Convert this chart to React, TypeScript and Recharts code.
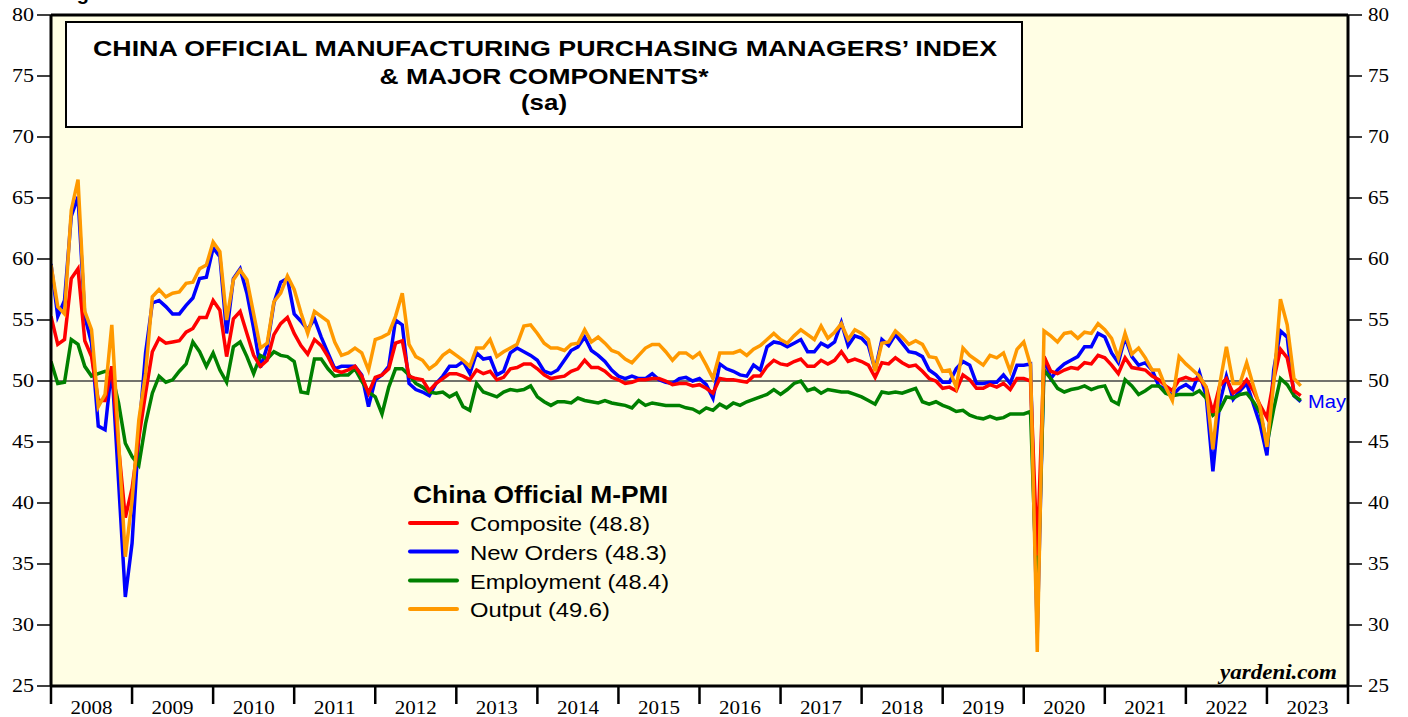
import React from 'react';
import { LineChart, Line, XAxis, YAxis, CartesianGrid, ReferenceLine } from 'recharts';

// monthly, Dec 2007 .. May 2023 (plotted at month end)
const composite = [
  55.3,
  53.0, 53.4, 58.4, 59.2, 53.3, 52.0, 48.4, 48.4, 51.2, 44.6, 38.8, 41.2,
  45.3, 49.0, 52.4, 53.5, 53.1, 53.2, 53.3, 54.0, 54.3, 55.2, 55.2, 56.6,
  55.8, 52.0, 55.1, 55.7, 53.9, 52.1, 51.2, 51.7, 53.8, 54.7, 55.2, 53.9,
  52.9, 52.2, 53.4, 52.9, 52.0, 50.9, 50.7, 50.9, 51.2, 50.4, 49.0, 50.3,
  50.5, 51.0, 53.1, 53.3, 50.4, 50.2, 50.1, 49.2, 49.8, 50.2, 50.6, 50.6,
  50.4, 50.1, 50.9, 50.6, 50.8, 50.1, 50.3, 51.0, 51.1, 51.4, 51.4, 51.0,
  50.5, 50.2, 50.3, 50.4, 50.8, 51.0, 51.7, 51.1, 51.1, 50.8, 50.3, 50.1,
  49.8, 49.9, 50.1, 50.1, 50.2, 50.2, 50.0, 49.7, 49.8, 49.8, 49.6, 49.7,
  49.4, 49.0, 50.2, 50.1, 50.1, 50.0, 49.9, 50.4, 50.4, 51.2, 51.7, 51.4,
  51.3, 51.6, 51.8, 51.2, 51.2, 51.7, 51.4, 51.7, 52.4, 51.6, 51.8, 51.6,
  51.3, 50.3, 51.5, 51.4, 51.9, 51.5, 51.2, 51.3, 50.8, 50.2, 50.0, 49.4,
  49.5, 49.2, 50.5, 50.1, 49.4, 49.4, 49.7, 49.5, 49.8, 49.3, 50.2, 50.2,
  50.0, 35.7, 52.0, 50.8, 50.6, 50.9, 51.1, 51.0, 51.5, 51.4, 52.1, 51.9,
  51.3, 50.6, 51.9, 51.1, 51.0, 50.9, 50.4, 50.1, 49.6, 49.2, 50.1, 50.3,
  50.1, 50.2, 49.5, 47.4, 49.6, 50.2, 49.0, 49.4, 50.1, 49.2, 48.0, 47.0,
  50.1, 52.6, 51.9, 49.2, 48.8,
];

const newOrders = [
  59.6,
  55.3, 56.6, 63.5, 65.1, 55.3, 53.1, 46.3, 46.0, 51.2, 41.8, 32.3, 36.7,
  45.7, 52.3, 56.4, 56.6, 56.1, 55.5, 55.5, 56.2, 56.8, 58.4, 58.5, 60.9,
  60.2, 53.9, 58.4, 59.2, 57.2, 54.3, 51.1, 52.8, 56.4, 58.1, 58.4, 55.5,
  54.9, 54.2, 55.1, 53.6, 52.3, 51.0, 51.2, 51.2, 51.2, 50.5, 47.9, 50.1,
  50.5, 51.2, 55.0, 54.6, 49.8, 49.3, 49.1, 48.8, 49.8, 50.4, 51.2, 51.2,
  51.6, 50.6, 52.3, 51.8, 51.9, 50.5, 50.8, 52.3, 52.7, 52.4, 52.1, 51.7,
  50.8, 50.6, 50.9, 51.7, 52.5, 52.8, 53.6, 52.5, 52.1, 51.6, 50.9, 50.4,
  50.2, 50.4, 50.2, 50.2, 50.6, 50.1, 49.9, 49.8, 50.2, 50.3, 50.0, 50.2,
  49.7, 48.6, 51.4, 51.0, 50.8, 50.5, 50.4, 51.3, 50.9, 52.8, 53.2, 53.1,
  52.8, 53.1, 53.4, 52.4, 52.4, 53.1, 52.8, 53.2, 54.8, 52.9, 53.7, 53.5,
  52.9, 50.9, 53.4, 52.9, 53.8, 53.1, 52.4, 52.3, 52.0, 50.9, 50.5, 49.9,
  49.9, 51.0, 51.6, 51.3, 49.8, 49.8, 49.9, 49.9, 50.5, 49.8, 51.3, 51.3,
  51.4, 29.3, 52.0, 50.2, 50.9, 51.4, 51.7, 52.0, 52.8, 52.8, 53.9, 53.6,
  52.3, 51.5, 53.6, 52.0, 51.3, 51.5, 50.9, 49.6, 49.3, 48.8, 49.4, 49.7,
  49.3, 50.7, 48.8, 42.6, 48.2, 50.4, 48.5, 49.2, 49.8, 48.1, 46.4, 43.9,
  50.9, 54.1, 53.6, 48.8, 48.3,
];

const employment = [
  51.6,
  49.8, 49.9, 53.4, 53.0, 51.2, 50.4, 50.6, 50.8, 50.6, 48.2, 44.9, 43.8,
  43.1, 46.5, 49.0, 50.4, 49.9, 50.1, 50.8, 51.4, 53.2, 52.4, 51.2, 52.3,
  50.9, 49.9, 52.8, 53.2, 52.0, 50.6, 52.1, 51.8, 52.4, 52.1, 52.0, 51.6,
  49.1, 49.0, 51.8, 51.8, 51.0, 50.4, 50.5, 50.5, 51.0, 50.0, 49.1, 48.7,
  47.3, 49.5, 51.0, 51.0, 50.5, 49.8, 49.5, 49.1, 49.0, 49.1, 48.7, 49.0,
  47.9, 47.6, 49.8, 49.1, 48.9, 48.7, 49.1, 49.3, 49.2, 49.3, 49.6, 48.7,
  48.3, 48.0, 48.3, 48.3, 48.2, 48.6, 48.4, 48.3, 48.2, 48.4, 48.2, 48.1,
  48.0, 47.8, 48.4, 48.0, 48.2, 48.1, 48.0, 48.0, 48.0, 47.8, 47.7, 47.4,
  47.8, 47.6, 48.1, 47.8, 48.2, 48.0, 48.3, 48.5, 48.7, 48.9, 49.3, 48.9,
  49.3, 49.8, 50.0, 49.2, 49.4, 49.0, 49.3, 49.2, 49.1, 49.1, 48.9, 48.7,
  48.4, 48.1, 49.1, 49.0, 49.1, 49.0, 49.2, 49.4, 48.3, 48.1, 48.3, 48.0,
  47.8, 47.5, 47.6, 47.2, 47.0, 46.9, 47.1, 46.9, 47.0, 47.3, 47.3, 47.3,
  47.5, 31.8, 50.9, 50.2, 49.4, 49.1, 49.3, 49.4, 49.6, 49.3, 49.5, 49.6,
  48.4, 48.1, 50.1, 49.6, 48.9, 49.2, 49.6, 49.6, 49.0, 48.8, 48.9, 48.9,
  48.9, 49.2, 48.6, 47.2, 47.6, 48.7, 48.6, 48.9, 49.0, 48.3, 47.4, 44.8,
  47.7, 50.2, 49.7, 48.8, 48.4,
];

const output = [
  59.5,
  56.1, 55.5, 64.0, 66.5, 55.7, 54.2, 47.9, 48.9, 54.6, 45.1, 35.6, 40.2,
  46.8, 50.6, 56.9, 57.5, 56.9, 57.2, 57.3, 58.0, 58.1, 59.2, 59.5, 61.4,
  60.6, 55.0, 58.3, 59.1, 58.3, 55.5, 52.7, 53.1, 56.5, 57.2, 58.6, 57.5,
  55.6, 53.9, 55.7, 55.3, 54.9, 53.2, 52.1, 52.3, 52.7, 52.3, 50.9, 53.4,
  53.6, 53.9, 55.3, 57.2, 53.0, 52.0, 51.7, 51.0, 51.4, 52.1, 52.5, 52.1,
  51.7, 51.2, 52.7, 52.7, 53.4, 52.0, 52.4, 52.7, 53.0, 54.5, 54.6, 53.9,
  53.1, 52.7, 52.7, 52.5, 53.0, 53.1, 54.2, 53.2, 53.6, 53.1, 52.5, 52.3,
  51.8, 51.5, 52.1, 52.7, 53.0, 53.0, 52.4, 51.7, 52.3, 52.3, 51.9, 52.3,
  51.3, 50.2, 52.3, 52.3, 52.3, 52.5, 52.1, 52.6, 52.9, 53.4, 53.9, 53.4,
  53.1, 53.7, 54.2, 53.8, 53.4, 54.5, 53.5, 54.0, 54.7, 53.4, 54.2, 53.9,
  53.4, 50.8, 53.1, 53.2, 54.1, 53.6, 53.0, 53.3, 53.0, 52.0, 51.9, 50.8,
  50.9, 49.5, 52.7, 52.1, 51.7, 51.3, 52.1, 51.9, 52.3, 50.8, 52.6, 53.2,
  51.3, 27.8, 54.1, 53.7, 53.2, 53.9, 54.0, 53.5, 54.0, 53.9, 54.7, 54.2,
  53.5, 51.9, 53.9, 52.2, 52.7, 51.9, 50.9, 50.9, 49.5, 48.4, 52.0, 51.4,
  50.9, 50.4, 49.5, 44.4, 49.7, 52.8, 49.8, 49.8, 51.5, 49.6, 47.8, 44.6,
  49.8, 56.7, 54.6, 50.2, 49.6,
];

const yearTicks = [0, 12, 24, 36, 48, 60, 72, 84, 96, 108, 120, 132, 144, 156, 168, 180, 192];
const yearLabels = ['2008', '2009', '2010', '2011', '2012', '2013', '2014', '2015',
  '2016', '2017', '2018', '2019', '2020', '2021', '2022', '2023'];
const valueTicks = [25, 30, 35, 40, 45, 50, 55, 60, 65, 70, 75, 80];

const rows = composite.map((v, i) => ({
  i,
  composite: v,
  newOrders: newOrders[i],
  employment: employment[i],
  output: output[i],
}));

const PLOT_LEFT = 51;
const PLOT_RIGHT = 1348;
const HALF_YEAR = (PLOT_RIGHT - PLOT_LEFT) / 16 / 2;
const SERIF = '"Liberation Serif", "Times New Roman", serif';
const SANS = '"Liberation Sans", Arial, sans-serif';

const YearTick = (props: any) => {
  const { x, y, payload } = props;
  const label = yearLabels[Math.round(payload.value / 12)];
  if (!label) return null;
  return (
    <text x={x + HALF_YEAR} y={y + 10} textAnchor="middle" fontFamily={SERIF} fontSize={19}
      fill="#000" textLength={42} lengthAdjust="spacingAndGlyphs">
      {label}
    </text>
  );
};

const LeftTick = (props: any) => {
  const { x, y, payload } = props;
  return (
    <text x={x} y={y + 6} textAnchor="end" fontFamily={SERIF} fontSize={18} fill="#000"
      textLength={22} lengthAdjust="spacingAndGlyphs">
      {payload.value}
    </text>
  );
};

const RightTick = (props: any) => {
  const { x, y, payload } = props;
  return (
    <text x={x} y={y + 6} textAnchor="start" fontFamily={SERIF} fontSize={18} fill="#000"
      textLength={21} lengthAdjust="spacingAndGlyphs">
      {payload.value}
    </text>
  );
};

const legendItems = [
  { label: 'Composite (48.8)', color: '#ff0000', y: 523, w: 180 },
  { label: 'New Orders (48.3)', color: '#0000ff', y: 551.5, w: 197 },
  { label: 'Employment (48.4)', color: '#008000', y: 580.5, w: 199 },
  { label: 'Output (49.6)', color: '#ff9900', y: 609, w: 140 },
];

export default function App() {
  return (
    <div style={{ position: 'absolute', left: 0, top: 0, width: 1408, height: 717, background: '#fff' }}>
      <LineChart width={1408} height={717} data={rows} margin={{ top: 15, right: 0, bottom: 0, left: 0 }}>
        <CartesianGrid horizontal={false} vertical={false} fill="#fffee4" />
        <XAxis dataKey="i" type="number" domain={[0, 192]} ticks={yearTicks} interval={0}
          height={31} tickSize={18} tickMargin={0} allowDataOverflow
          axisLine={{ stroke: '#000', strokeWidth: 3 }}
          tickLine={{ stroke: '#000', strokeWidth: 2.5 }}
          tick={(p: any) => <YearTick {...p} />} />
        <YAxis domain={[25, 80]} ticks={valueTicks} interval={0} width={51}
          tickSize={14} tickMargin={3} allowDataOverflow
          axisLine={{ stroke: '#000', strokeWidth: 3 }}
          tickLine={{ stroke: '#000', strokeWidth: 1.5 }}
          tick={(p: any) => <LeftTick {...p} />} />
        <YAxis yAxisId="right" orientation="right" domain={[25, 80]} ticks={valueTicks} interval={0}
          width={60} tickSize={14} tickMargin={6} allowDataOverflow
          axisLine={{ stroke: '#000', strokeWidth: 3 }}
          tickLine={{ stroke: '#000', strokeWidth: 1.5 }}
          tick={(p: any) => <RightTick {...p} />} />
        <ReferenceLine y={80} stroke="#000" strokeWidth={3} />
        <ReferenceLine y={50} stroke="#444" strokeWidth={1.3} />
        <Line dataKey="newOrders" stroke="#0000ff" strokeWidth={3.5} dot={false} isAnimationActive={false} />
        <Line dataKey="employment" stroke="#008000" strokeWidth={3.5} dot={false} isAnimationActive={false} />
        <Line dataKey="composite" stroke="#ff0000" strokeWidth={3.5} dot={false} isAnimationActive={false} />
        <Line dataKey="output" stroke="#ff9900" strokeWidth={3.5} dot={false} isAnimationActive={false} />
      </LineChart>

      <svg width={1408} height={717} style={{ position: 'absolute', left: 0, top: 0, pointerEvents: 'none' }}>
        <text x={59} y={0} fontFamily={SANS} fontWeight="bold" fontSize={20} fill="#000">Figure</text>

        <rect x={66} y={22} width={956} height={105} fill="#fff" stroke="#000" strokeWidth={2} />
        <g fontFamily={SANS} fontWeight="bold" fontSize={22} fill="#000" textAnchor="middle">
          <text x={545} y={56} textLength={904} lengthAdjust="spacingAndGlyphs">
            CHINA OFFICIAL MANUFACTURING PURCHASING MANAGERS’ INDEX
          </text>
          <text x={544} y={84} textLength={329} lengthAdjust="spacingAndGlyphs">
            &amp; MAJOR COMPONENTS*
          </text>
          <text x={544} y={110} textLength={46} lengthAdjust="spacingAndGlyphs">(sa)</text>
        </g>

        <text x={413} y={503} fontFamily={SANS} fontWeight="bold" fontSize={23} fill="#000"
          textLength={255} lengthAdjust="spacingAndGlyphs">
          China Official M-PMI
        </text>
        {legendItems.map((it) => (
          <g key={it.label}>
            <line x1={410} x2={457} y1={it.y} y2={it.y} stroke={it.color} strokeWidth={4} strokeLinecap="round" />
            <text x={470} y={it.y + 8} fontFamily={SANS} fontSize={21} fill="#000"
              textLength={it.w} lengthAdjust="spacingAndGlyphs">
              {it.label}
            </text>
          </g>
        ))}

        <text x={1308} y={408} fontFamily={SANS} fontSize={19} fill="#0000ff"
          textLength={38} lengthAdjust="spacingAndGlyphs">May</text>
        <text x={1337} y={679} textAnchor="end" fontFamily={SERIF} fontWeight="bold" fontStyle="italic"
          fontSize={21} fill="#000" textLength={117} lengthAdjust="spacingAndGlyphs">yardeni.com</text>
      </svg>
    </div>
  );
}
